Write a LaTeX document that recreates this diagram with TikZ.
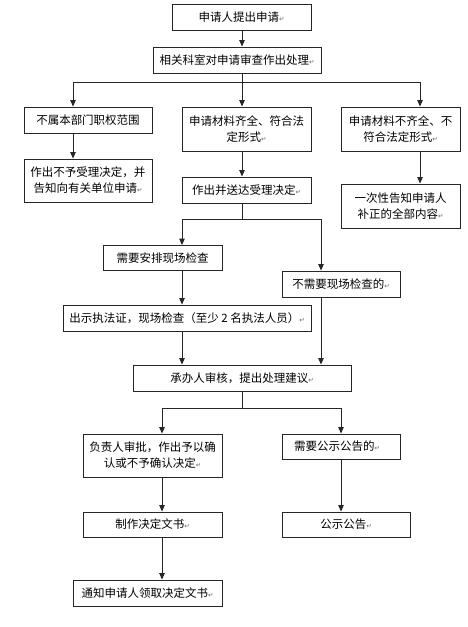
\documentclass[tikz,border=0pt]{standalone}
\usepackage{fontspec}
\setmainfont{Noto Sans CJK SC}
\newfontfamily\symfont{DejaVu Sans}
\usetikzlibrary{arrows.meta}
\newcommand\pmark{{\symfont\fontsize{6.5}{6.5}\selectfont\color{black!60}↵}}
\tikzset{
  box/.style={draw=black!85, line width=0.9pt, inner sep=0pt, align=center,
    font=\fontsize{11.5}{16}\selectfont},
  arr/.style={draw=black!85, line width=0.9pt, -{Triangle[length=6.5pt,width=5.5pt]}},
  ln/.style={draw=black!85, line width=0.9pt}
}
\begin{document}
\begin{tikzpicture}[x=1pt,y=-1pt]
\useasboundingbox[fill=white] (0,0) rectangle (467,627);
% x guide coordinates
\coordinate (xa) at (242,0);
\coordinate (xl) at (73,0);
\coordinate (xr) at (420,0);
\coordinate (xc) at (182,0);
\coordinate (xd) at (321,0);
\coordinate (xe) at (162,0);
\coordinate (xf) at (341,0);
% nodes
\node[box, minimum width=139pt, minimum height=26pt] (b1) at (241.5,17) {申请人提出申请\pmark};
\node[box, minimum width=168pt, minimum height=26pt] (b2) at (237,60) {相关科室对申请审查作出处理\pmark};
\node[box, minimum width=128pt, minimum height=26pt] (L1) at (88,120) {不属本部门职权范围};
\node[box, minimum width=129pt, minimum height=44pt] (M1) at (246.5,129) {申请材料齐全、符合法\\定形式\pmark};
\node[box, minimum width=119pt, minimum height=44pt] (R1) at (400.5,129) {申请材料不齐全、不\\符合法定形式\pmark};
\node[box, minimum width=128pt, minimum height=43pt] (L2) at (88,180.5) {作出不予受理决定，并\\告知向有关单位申请\pmark};
\node[box, minimum width=129pt, minimum height=26pt] (M2) at (246.5,190) {作出并送达受理决定\pmark};
\node[box, minimum width=119pt, minimum height=44pt] (R2) at (400.5,206) {一次性告知申请人\\补正的全部内容\pmark};
\node[box, minimum width=119pt, minimum height=25pt] (A) at (162.5,258) {需要安排现场检查};
\node[box, minimum width=118pt, minimum height=26pt] (B) at (341,284) {不需要现场检查的\pmark};
\node[box, minimum width=248pt, minimum height=26pt] (C) at (187,318) {出示执法证，现场检查（至少 2 名执法人员）\pmark};
\node[box, minimum width=218pt, minimum height=26pt] (D) at (242,378) {承办人审核，提出处理建议\pmark};
\node[box, minimum width=139pt, minimum height=43pt] (E) at (152.5,455.5) {负责人审批，作出予以确\\认或不予确认决定\pmark};
\node[box, minimum width=118pt, minimum height=25pt] (F) at (341,446.5) {需要公示公告的\pmark\hspace{8pt}};
\node[box, minimum width=139pt, minimum height=25pt] (G) at (152.5,524.5) {制作决定文书\pmark};
\node[box, minimum width=128pt, minimum height=25pt] (H) at (346,524.5) {公示公告\pmark};
\node[box, minimum width=149pt, minimum height=26pt] (I) at (147.5,593) {通知申请人领取决定文书\pmark};
% junctions
\coordinate (j1) at (242,82);
\coordinate (j2) at (242,219);
\coordinate (j3) at (242,408);
% connectors
\draw[arr] (b1.south -| xa) -- (b2.north -| xa);
\draw[ln] (b2.south -| xa) -- (j1);
\draw[arr] (j1) -| (L1.north -| xl);
\draw[arr] (j1) -- (M1.north -| xa);
\draw[arr] (j1) -| (R1.north -| xr);
\draw[arr] (L1.south -| xl) -- (L2.north -| xl);
\draw[arr] (M1.south -| xa) -- (M2.north -| xa);
\draw[arr] (R1.south -| xr) -- (R2.north -| xr);
\draw[ln] (M2.south -| xa) -- (j2);
\draw[arr] (j2) -| (A.north -| xc);
\draw[arr] (j2) -| (B.north -| xd);
\draw[arr] (A.south -| xc) -- (C.north -| xc);
\draw[arr] (C.south -| xc) -- (D.north -| xc);
\draw[arr] (B.south -| xd) -- (D.north -| xd);
\draw[ln] (D.south -| xa) -- (j3);
\draw[arr] (j3) -| (E.north -| xe);
\draw[arr] (j3) -| (F.north -| xf);
\draw[arr] (E.south -| xe) -- (G.north -| xe);
\draw[arr] (F.south -| xf) -- (H.north -| xf);
\draw[arr] (G.south -| xe) -- (I.north -| xe);
\end{tikzpicture}
\end{document}
